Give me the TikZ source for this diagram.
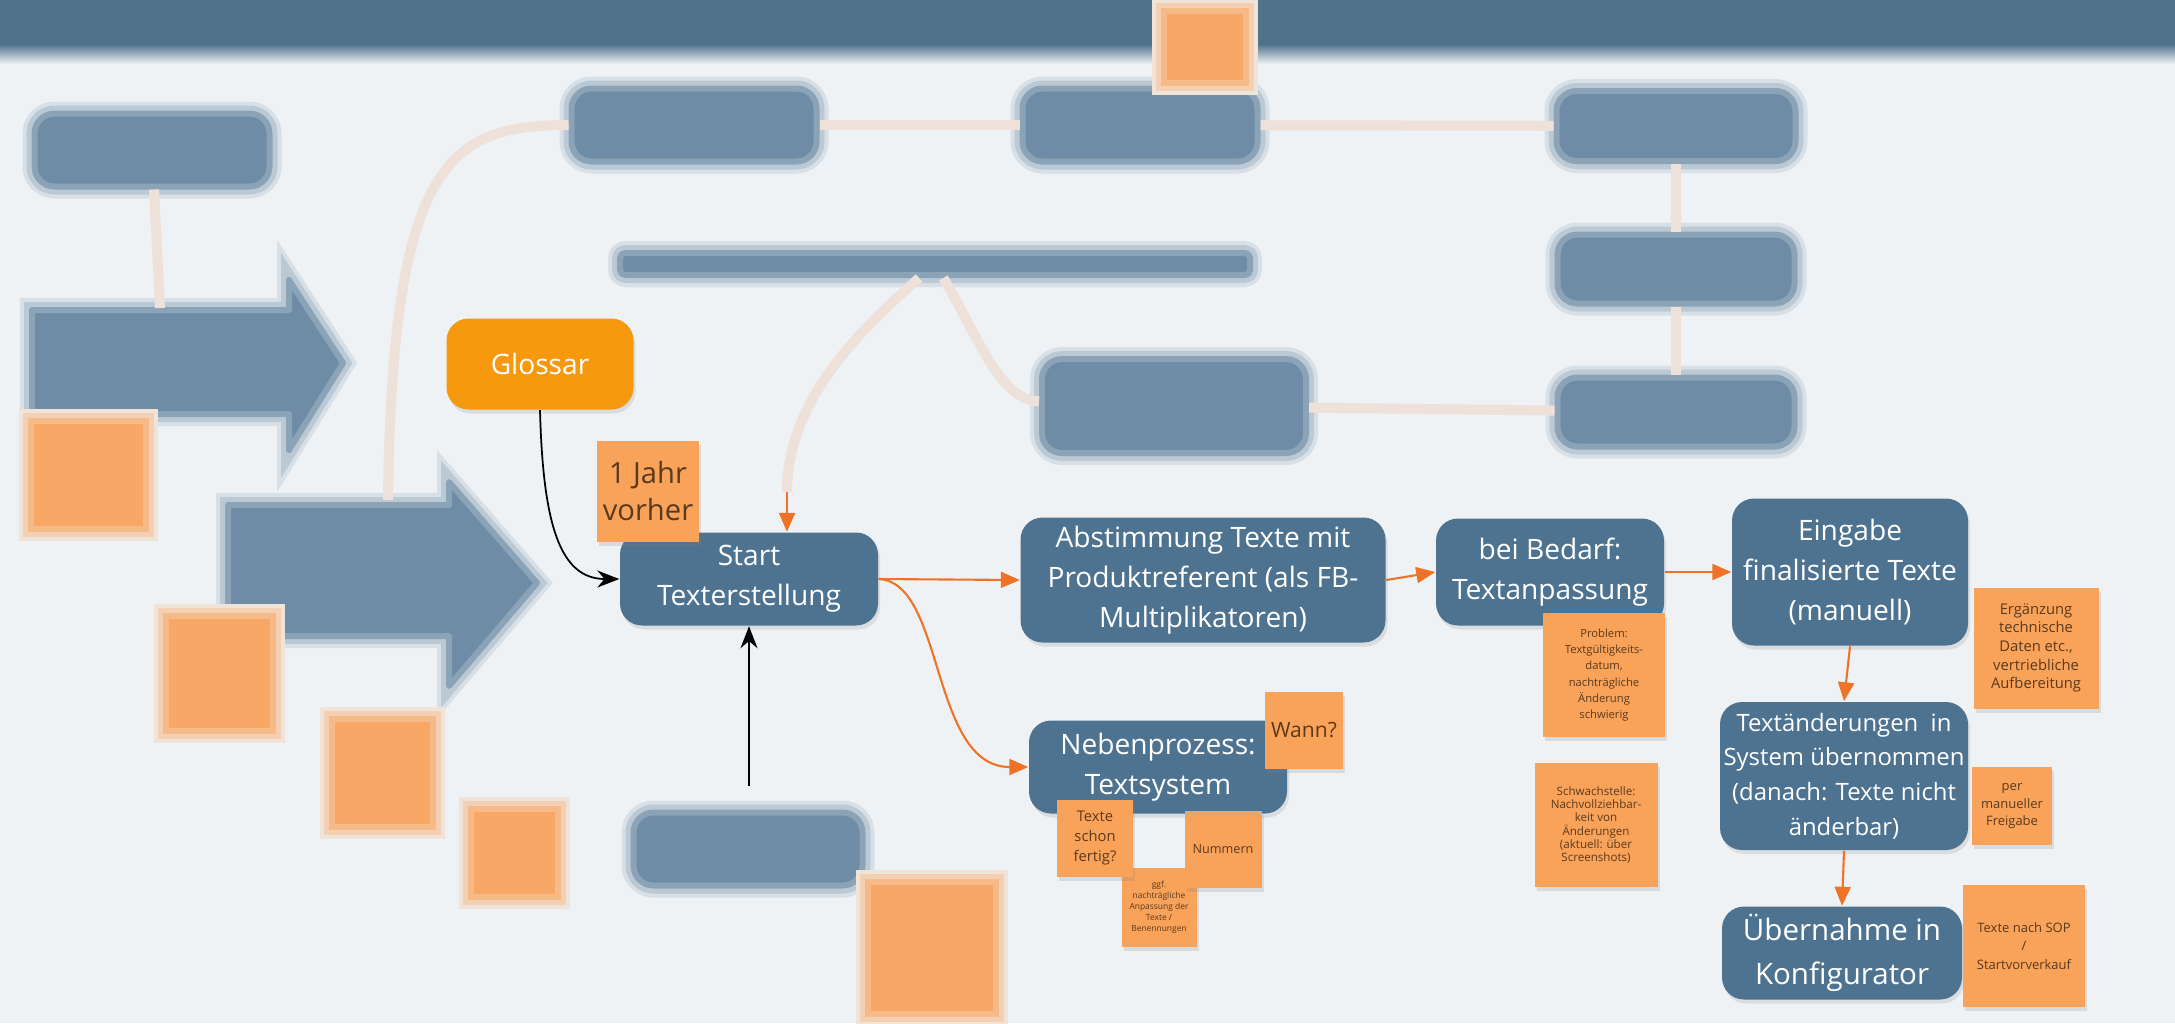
\documentclass[tikz,border=0pt]{standalone}
\usepackage{fontspec}
\setmainfont{Open Sans}
\usetikzlibrary{arrows.meta,shadows}
\definecolor{slate}{HTML}{4E7391}
\definecolor{barc}{HTML}{50738A}
\definecolor{bgc}{HTML}{EEF2F5}
\definecolor{notec}{HTML}{F9A25A}
\definecolor{glossc}{HTML}{F7990F}
\definecolor{arrc}{HTML}{EF7327}
\definecolor{notetxt}{HTML}{5A3A1C}

\begin{document}
\begin{tikzpicture}[x=0.1mm, y=-0.1mm,
    box/.style = {fill=slate, text=white, rounded corners=2.2mm, align=center, inner sep=1pt,
      font=\fontsize{8}{11.4}\selectfont,
      drop shadow={opacity=0.18, shadow xshift=0.2mm, shadow yshift=-0.4mm}},
    note/.style = {fill=notec, text=notetxt, align=center, inner sep=1pt,
      drop shadow={opacity=0.2, shadow xshift=0.2mm, shadow yshift=-0.4mm}},
    blurpath/.style = {fill=slate!80!bgc, draw=slate!62!bgc, line width=0.6mm, line join=round,
      preaction={draw=slate!14!bgc, line width=2.4mm},
      preaction={draw=slate!32!bgc, line width=1.6mm}},
    blur/.style = {blurpath, rounded corners=2mm, inner sep=0pt},
    blurnote/.style = {fill=notec!92!bgc, draw=notec!70!bgc, line width=0.6mm, inner sep=0pt,
      preaction={draw=notec!18!bgc, line width=2.4mm},
      preaction={draw=notec!42!bgc, line width=1.6mm}},
    faint/.style = {draw=arrc!13!bgc, line width=1mm},
    oarr/.style = {draw=arrc, line width=0.6pt, -{Triangle[length=1.9mm,width=1.6mm]}},
    karr/.style = {draw=black, line width=0.5pt, -{Stealth[length=2.2mm,width=1.7mm]}}]

    \useasboundingbox (0,0) rectangle (2175,1023);
    \fill[bgc] (0,0) rectangle (2175,1023);
    \fill[barc] (0,0) rectangle (2175,44);
    \shade[top color=barc, bottom color=bgc] (0,44) rectangle (2175,64);

    % blurred background process
    \node[blur, minimum width=23.5mm, minimum height=7.3mm] (oldA) at (152,150) {};
    \node[blur, minimum width=24.5mm, minimum height=7.3mm] (oldB) at (694,125) {};
    \node[blur, minimum width=23.5mm, minimum height=7.3mm] (oldC) at (1140,125) {};
    \node[blur, minimum width=23.9mm, minimum height=7mm] (oldD) at (1676,126) {};
    \node[blur, rounded corners=0.5mm, minimum width=63mm, minimum height=2.2mm] (oldE) at (935,264) {};
    \node[blur, minimum width=23.7mm, minimum height=6.9mm] (oldF) at (1676,269) {};
    \node[blur, minimum width=26.4mm, minimum height=9.4mm] (oldG) at (1174,406) {};
    \node[blur, minimum width=23.7mm, minimum height=6.9mm] (oldH) at (1676,412) {};
    \node[blur, minimum width=22.9mm, minimum height=7.3mm] (oldI) at (748,849) {};
    \path[blurpath]
      (32,310) -- (289,310) -- (289,280) -- (343,363) -- (289,450) -- (289,414) -- (32,414) -- cycle;
    \path[blurpath]
      (228,505) -- (449,505) -- (449,482) -- (537,583) -- (449,686) -- (449,636) -- (228,636) -- cycle;
    \coordinate (arrA) at (160,308);
    \coordinate (arrB) at (388,500);
    \coordinate (feed) at (787,492);

    \draw[faint] (oldA) -- (arrA);
    \draw[faint] (arrB) .. controls (392,160) and (450,125) .. (oldB);
    \draw[faint] (oldB) -- (oldC);
    \draw[faint] (oldC) -- (oldD);
    \draw[faint] (oldD) -- (oldF);
    \draw[faint] (oldF) -- (oldH);
    \draw[faint] (oldG) -- (oldH);
    \draw[faint] (oldE) .. controls (860,330) and (787,400) .. (feed);
    \draw[faint] (oldE) .. controls (980,340) and (1000,400) .. (oldG);

    \node[blurnote, minimum width=11.5mm, minimum height=10.8mm] (oldn1) at (88,475) {};
    \node[blurnote, minimum width=10.7mm, minimum height=11.5mm] (oldn2) at (219,673) {};
    \node[blurnote, minimum width=10.1mm, minimum height=10.8mm] (oldn3) at (382,773) {};
    \node[blurnote, minimum width=8.7mm, minimum height=8.8mm] (oldn4) at (514,853) {};
    \node[blurnote, minimum width=12.8mm, minimum height=13.2mm] (oldn5) at (932,948) {};
    \node[blurnote, minimum width=8.2mm, minimum height=7.2mm] (oldn6) at (1205,47) {};

    % main process
    \node[box, fill=glossc, minimum width=18.7mm, minimum height=9.1mm] (glossar) at (540,364) {Glossar};
    \node[box, minimum width=25.8mm, minimum height=9.3mm] (start) at (749,579) {Start\\Texterstellung};
    \node[box, minimum width=36.5mm, minimum height=12.5mm] (abst) at (1203,580) {Abstimmung Texte mit\\Produktreferent (als FB-\\Multiplikatoren)};
    \node[box, minimum width=22.8mm, minimum height=10.7mm] (bedarf) at (1550,572) {bei Bedarf:\\Textanpassung};
    \node[box, minimum width=23.6mm, minimum height=14.7mm] (eingabe) at (1850,572) {Eingabe\\finalisierte Texte\\(manuell)};
    \node[box, minimum width=24.8mm, minimum height=14.8mm, font=\fontsize{6.8}{9.9}\selectfont] (aender) at (1844,776) {Textänderungen\ \ in\\System übernommen\\(danach: Texte nicht\\änderbar)};
    \node[box, minimum width=24mm, minimum height=9.3mm, font=\fontsize{8.4}{12.4}\selectfont] (uebern) at (1842,953) {Übernahme in\\Konfigurator};
    \node[box, minimum width=25.8mm, minimum height=9.3mm] (neben) at (1158,767) {Nebenprozess:\\Textsystem};

    \coordinate (below) at (749,786);
    \draw[karr] (glossar.south) .. controls (543,525) and (560,579) .. (start.west);
    \draw[karr] (below) -- (start.south);
    \draw[oarr] (feed) -- (feed |- start.north);
    \draw[oarr] (start.east) -- (abst.west);
    \draw[oarr] (start.east) .. controls (945,582) and (930,767) .. (neben.west);
    \draw[oarr] (abst.east) -- (bedarf.west);
    \draw[oarr] (bedarf.east) -- (eingabe.west);
    \draw[oarr] (eingabe.south) -- (aender.north);
    \draw[oarr] (aender.south) -- (uebern.north);

    % notes
    \node[note, minimum width=10.2mm, minimum height=10.1mm, font=\fontsize{8.3}{10.3}\selectfont] (jahr) at (648,491) {1 Jahr\\vorher};
    \node[note, minimum width=7.8mm, minimum height=7.7mm, font=\fontsize{6}{7}\selectfont] (wann) at (1304,730) {Wann?};
    \node[note, minimum width=7.5mm, minimum height=7.9mm, font=\fontsize{2.4}{3.1}\selectfont] (ggf) at (1159,907) {ggf.\\nachträgliche\\Anpassung der\\Texte /\\Benennungen};
    \node[note, minimum width=7.6mm, minimum height=7.7mm, font=\fontsize{4.2}{5.7}\selectfont] (fertig) at (1095,838) {Texte\\schon\\fertig?};
    \node[note, minimum width=7.7mm, minimum height=7.7mm, font=\fontsize{3.6}{4.4}\selectfont] (nummern) at (1223,849) {Nummern};
    \node[note, minimum width=12.2mm, minimum height=12.4mm, font=\fontsize{3.2}{4.6}\selectfont] (problem) at (1604,675) {Problem:\\Textgültigkeits-\\datum,\\nachträgliche\\Änderung\\schwierig};
    \node[note, minimum width=12.3mm, minimum height=12.4mm, font=\fontsize{3.3}{3.8}\selectfont] (schwach) at (1596,825) {Schwachstelle:\\Nachvollziehbar-\\keit von\\Änderungen\\(aktuell: über\\Screenshots)};
    \node[note, minimum width=12.5mm, minimum height=12.1mm, font=\fontsize{4.2}{5.3}\selectfont] (ergaenz) at (2036,648) {Ergänzung\\technische\\Daten etc.,\\vertriebliche\\Aufbereitung};
    \node[note, minimum width=8mm, minimum height=7.8mm, font=\fontsize{3.7}{5}\selectfont] (freigabe) at (2012,806) {per\\manueller\\Freigabe};
    \node[note, minimum width=12.2mm, minimum height=12.2mm, font=\fontsize{3.7}{5.2}\selectfont] (sop) at (2024,946) {Texte nach SOP\\/\\Startvorverkauf};
\end{tikzpicture}
\end{document}
